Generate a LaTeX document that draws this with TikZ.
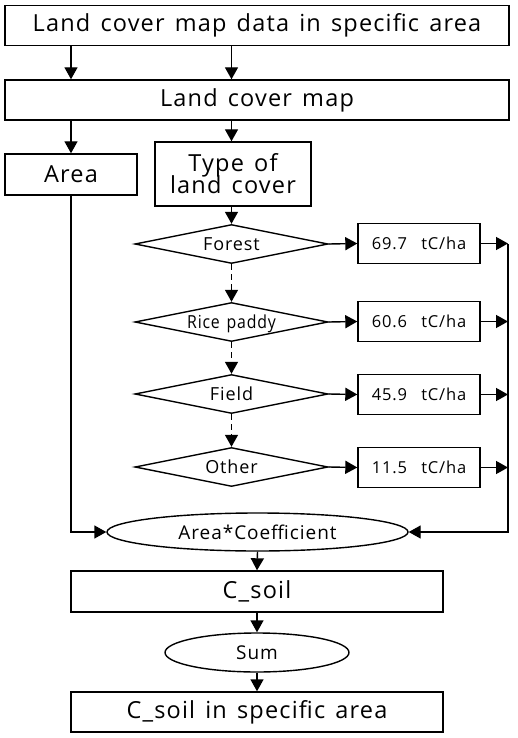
\documentclass[tikz,border=0pt]{standalone}
\usepackage{fontspec}
\setmainfont{Open Sans}[LetterSpace=5, WordSpace=1.4]
\usetikzlibrary{arrows.meta,shapes.geometric}

\begin{document}
\begin{tikzpicture}[x=1pt, y=-1pt,
    box/.style={rectangle, draw, line width=1.4pt, inner sep=0pt, font=\fontsize{23.5}{26}\selectfont},
    valbox/.style={rectangle, draw, line width=1.4pt, inner sep=0pt, minimum width=122pt, minimum height=40pt, font=\fontsize{16.5}{20}\selectfont},
    choice/.style={diamond, draw, line width=1.4pt, inner sep=0pt, aspect=5, minimum width=193pt, minimum height=39pt, text height=12pt, text depth=0pt, font=\fontsize{18}{22}\selectfont},
    oval/.style={ellipse, draw, line width=1.4pt, inner sep=0pt, font=\fontsize{19}{23}\selectfont},
    arrow/.style={line width=1.4pt, -{Triangle[length=12pt, width=13pt]}},
    next/.style={arrow, dash pattern=on 6pt off 4pt}]
    \useasboundingbox (0, 0) rectangle (518, 738);
    \node[box, minimum width=504pt, minimum height=40pt] (data) at (257, 25.5) {Land cover map data in specific area};
    \node[box, minimum width=504pt, minimum height=40pt] (map) at (257, 100) {Land cover map};
    \node[box, minimum width=132pt, minimum height=41pt] (area) at (71, 174.5) {Area};
    \node[box, minimum width=156pt, minimum height=64pt, align=center] (type) at (233, 174) {Type of\\[-4pt]land cover};
    \node[choice] (forest) at (231.5, 244) {Forest};
    \node[choice] (rice) at (231.5, 322) {\scalebox{0.88}[1]{Rice paddy}};
    \node[choice] (field) at (231.5, 394) {Field};
    \node[choice] (other) at (231.5, 467) {Other};
    \node[valbox] (v1) at (419, 243.5) {69.7~~tC/ha};
    \node[valbox] (v2) at (419, 321.5) {60.6~~tC/ha};
    \node[valbox] (v3) at (419, 394.5) {45.9~~tC/ha};
    \node[valbox] (v4) at (419, 467.5) {11.5~~tC/ha};
    \coordinate (bus) at (508, 244);
    \node[oval, minimum width=301pt, minimum height=38pt] (calc) at (257.5, 532) {Area*Coefficient};
    \node[box, minimum width=372pt, minimum height=41pt] (csoil) at (257, 591.5) {C\_soil};
    \node[oval, minimum width=184pt, minimum height=39pt] (sum) at (257, 652.5) {Sum};
    \node[box, minimum width=372pt, minimum height=40pt] (total) at (257, 712) {C\_soil in specific area};
    \draw[arrow] (data.south -| area.north) -- (map.north -| area.north);
    \draw[arrow] (data.south -| forest.north) -- (map.north -| forest.north);
    \draw[arrow] (map.south -| area.north) -- (area.north);
    \draw[arrow] (map.south -| forest.north) -- (type.north -| forest.north);
    \draw[arrow] (type.south -| forest.north) -- (forest.north);
    \draw[next] (forest.south) -- (rice.north);
    \draw[next] (rice.south) -- (field.north);
    \draw[next] (field.south) -- (other.north);
    \foreach \c/\v in {forest/v1, rice/v2, field/v3, other/v4} {
        \draw[arrow] (\c.east) -- (\v.west);
        \draw[arrow] (\v.east) -- (\v.east -| bus);
    }
    \draw[arrow] (bus) |- (calc.east);
    \draw[arrow] (area.south) |- (calc.west);
    \draw[arrow] (calc.south) -- (csoil.north);
    \draw[arrow] (csoil.south) -- (sum.north);
    \draw[arrow] (sum.south) -- (total.north);
\end{tikzpicture}
\end{document}
